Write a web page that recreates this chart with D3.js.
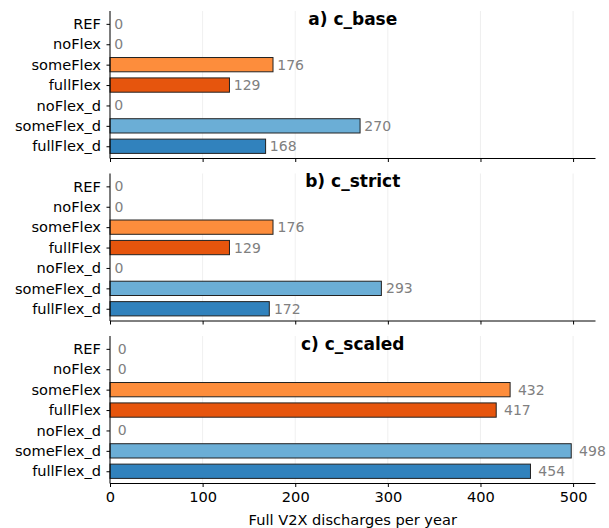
<!DOCTYPE html>
<html><head><meta charset="utf-8">
<script src="https://cdn.jsdelivr.net/npm/d3@7"></script>
<style>body{margin:0;background:#fff}svg{font-family:"DejaVu Sans",sans-serif}</style>
</head><body>
<script>
const categories = ["REF","noFlex","someFlex","fullFlex","noFlex_d","someFlex_d","fullFlex_d"];
const barColors = {REF:"#cccccc",noFlex:"#cccccc",someFlex:"#fd8d3c",fullFlex:"#e6550d",noFlex_d:"#cccccc",someFlex_d:"#6baed6",fullFlex_d:"#3182bd"};
const panelTitles = ["a) c_base","b) c_strict","c) c_scaled"];
const valuesBase = [0,0,176,129,0,270,168];
const valuesStrict = [0,0,176,129,0,293,172];
const valuesScaled = [0,0,432,417,0,498,454];
const xTicks = [0,100,200,300,400,500];
const xLabel = "Full V2X discharges per year";

const panels = [valuesBase, valuesStrict, valuesScaled];
const W=609,H=528;
const svg=d3.select("body").append("svg").attr("width",W).attr("height",H);
const left=110,right=595.5;
const tops=[11,173.5,336], ph=147.5;
const x=d3.scaleLinear().domain([0,524.2]).range([left,right]);
const fs=14.6;

panels.forEach((vals,pi)=>{
  const top=tops[pi], bottom=top+ph;
  const y=d3.scaleLinear().domain([-0.63,6.6]).range([top,bottom]);
  const g=svg.append("g");
  g.selectAll(".grid").data(xTicks).join("line")
    .attr("x1",d=>x(d)).attr("x2",d=>x(d)).attr("y1",top).attr("y2",bottom)
    .attr("stroke","#ebebeb").attr("stroke-width",0.8);
  const bh=y(0.35)-y(0);
  g.selectAll("rect").data(categories.map((c,i)=>({c,v:vals[i],i}))).join("rect")
    .attr("x",x(0)).attr("y",d=>y(d.i)-bh).attr("width",d=>x(d.v)-x(0)).attr("height",2*bh)
    .attr("fill",d=>barColors[d.c]).attr("stroke","#222").attr("stroke-width",d=>d.v>0?1:0);
  const maxV=d3.max(vals), off=maxV*0.017;
  g.selectAll(".val").data(vals).join("text")
    .attr("x",d=>x(d+off)).attr("y",(d,i)=>y(i)).attr("dy","0.36em")
    .attr("fill","#808080").attr("font-size",14).text(d=>d3.format("d")(d));
  const ya=d3.axisLeft(d3.scaleLinear().domain(y.domain()).range(y.range()))
    .tickValues(d3.range(7)).tickFormat(i=>categories[i]).tickSize(3.5).tickPadding(5.5);
  const ga=g.append("g").attr("transform",`translate(${left},0)`).call(ya);
  ga.attr("font-size",fs).attr("font-family","DejaVu Sans");
  ga.select(".domain").attr("d",`M0,${top}V${bottom}`).attr("stroke","#000").attr("stroke-width",1);
  ga.selectAll("text").attr("fill","#000");
  const xa=d3.axisBottom(x).tickValues(xTicks).tickSize(3.5).tickPadding(5)
    .tickFormat(pi===2?d3.format("d"):()=>"");
  const gx=g.append("g").attr("transform",`translate(0,${bottom})`).call(xa);
  gx.attr("font-size",fs).attr("font-family","DejaVu Sans");
  gx.select(".domain").attr("d",`M${left},0H${right}`).attr("stroke","#000").attr("stroke-width",1);
  gx.selectAll("text").attr("fill","#000");
  g.append("text").attr("x",(left+right)/2).attr("y",top+13.5).attr("text-anchor","middle")
    .attr("font-weight","bold").attr("font-size",17).text(panelTitles[pi]);
});
svg.append("text").attr("x",(left+right)/2).attr("y",525).attr("text-anchor","middle")
  .attr("font-size",fs).text(xLabel);
</script>
</body></html>
